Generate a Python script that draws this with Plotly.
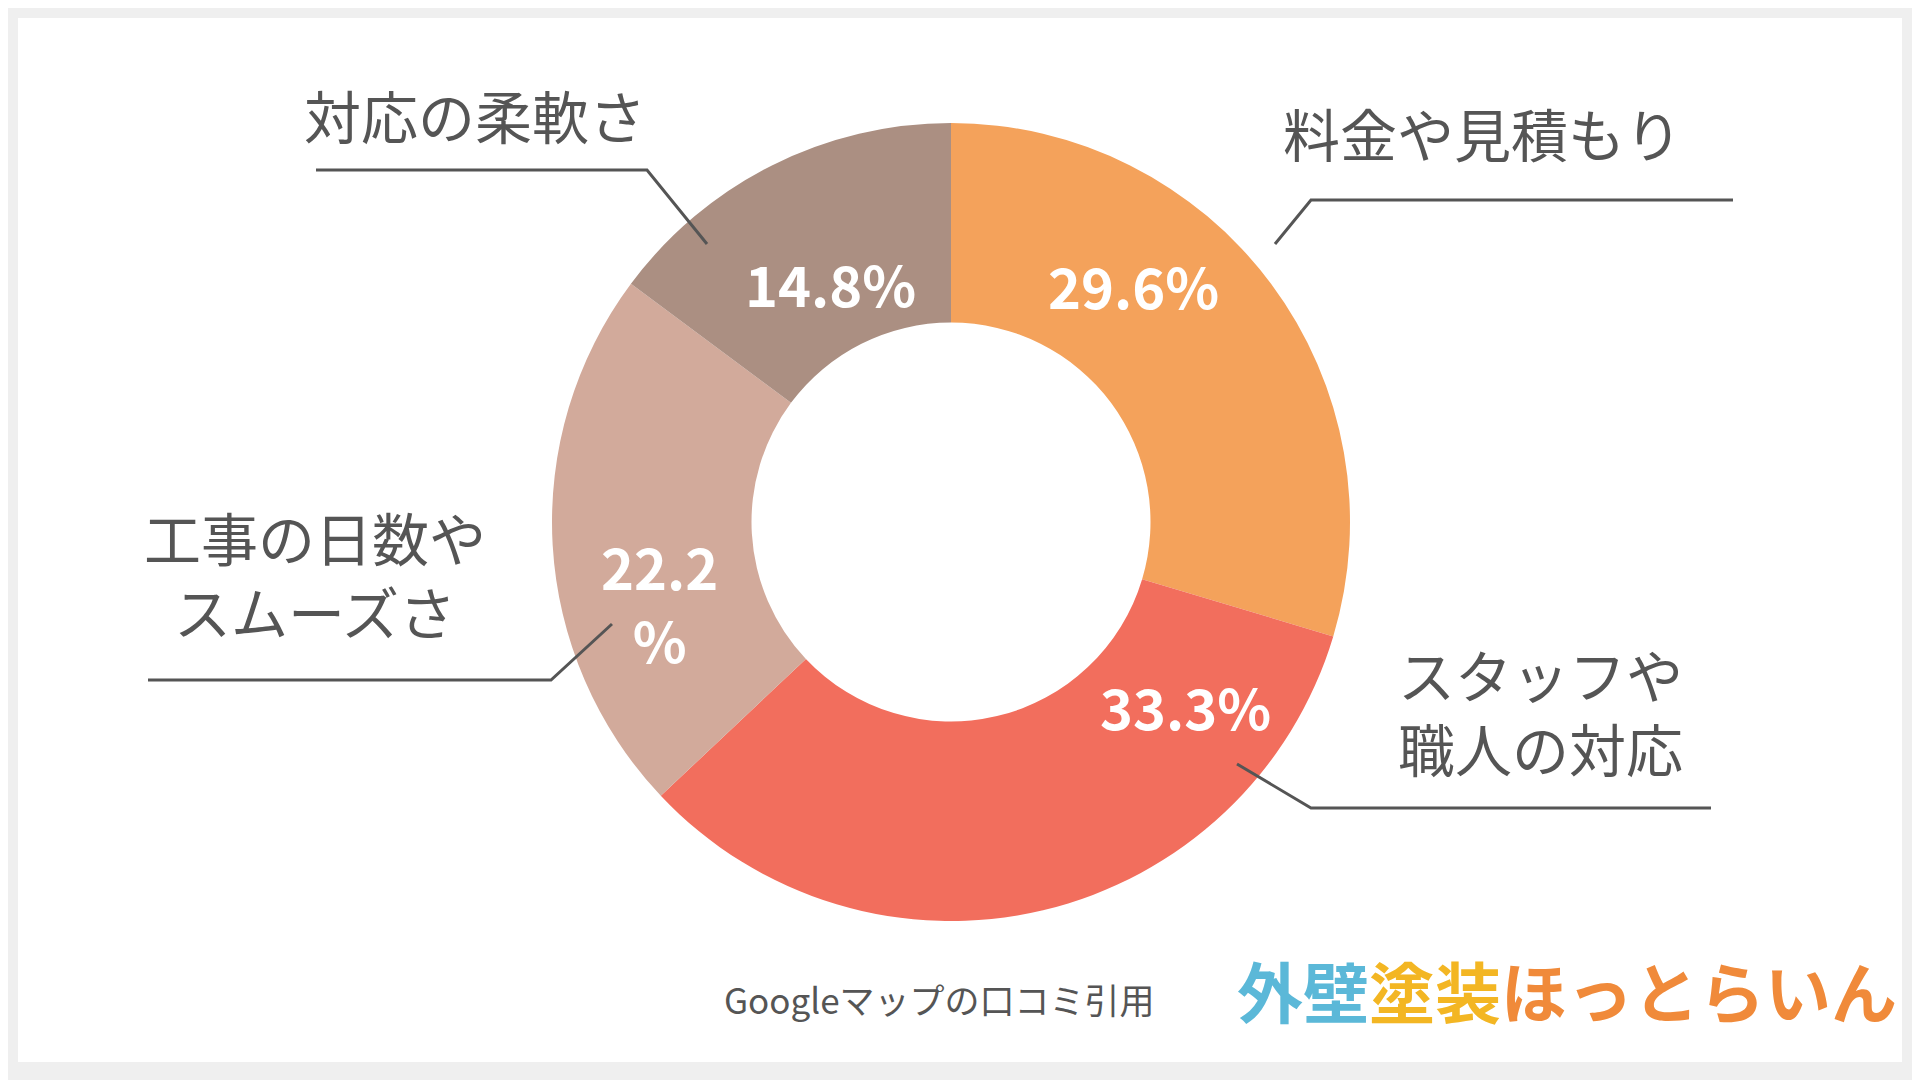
import plotly.graph_objects as go

categories = ["料金や見積もり", "スタッフや職人の対応", "工事の日数やスムーズさ", "対応の柔軟さ"]
values = [8, 9, 6, 4]
colors = ["#F4A25B", "#F26E5D", "#D2AA9B", "#AB8F82"]

total = sum(values)
pct = [f"{v / total * 100:.1f}%" for v in values]
texts = [p if i != 2 else p[:-1] + "<br>%" for i, p in enumerate(pct)]

W, H = 1920, 1080
OFF = -8
def px(x): return (x + OFF) / W
def py(y): return 1 - (y + OFF) / H

cx, cy, R = 951, 522, 399
fig = go.Figure(go.Pie(
    labels=categories, values=values, textinfo="none",
    hole=0.5, sort=False, direction="clockwise", rotation=0,
    marker=dict(colors=colors, line=dict(width=0)),
    domain=dict(x=[px(cx - R), px(cx + R)], y=[py(cy + R), py(cy - R)]),
    showlegend=False, hoverinfo="label+percent",
))

shapes = [
    dict(type="rect", xref="paper", yref="paper", x0=px(18), x1=px(1902), y0=py(1062), y1=py(18),
         fillcolor="white", line=dict(width=0), layer="below"),
]
lines = [
    [(1275, 244), (1311, 200), (1733, 200)],
    [(1237, 764), (1311, 808), (1711, 808)],
    [(612, 624), (551, 680), (148, 680)],
    [(707, 244), (647, 170), (316, 170)],
]
for pts in lines:
    path = "M " + " L ".join(f"{px(x)} {py(y)}" for x, y in pts)
    shapes.append(dict(type="path", xref="paper", yref="paper", path=path,
                       line=dict(color="#555555", width=3)))

lab_font = dict(family="Noto Sans CJK JP", size=57, color="#555555")
annos = [
    dict(x=px(1482), y=py(132), text=categories[0]),
    dict(x=px(1540), y=py(710), text="スタッフや<br>職人の対応"),
    dict(x=px(315), y=py(573), text="工事の日数や<br>スムーズさ"),
    dict(x=px(475), y=py(114), text=categories[3]),
]
for a in annos:
    a.update(xref="paper", yref="paper", showarrow=False, font=lab_font, xanchor="center", yanchor="middle")

pct_pos = [(1133, 284), (1185, 705), (659, 602), (830, 282)]
for t, (x, y) in zip(texts, pct_pos):
    annos.append(dict(x=px(x), y=py(y), xref="paper", yref="paper", showarrow=False, text=t,
                      xanchor="center", yanchor="middle",
                      font=dict(family="Noto Sans CJK JP", size=56, color="white", weight="bold")))

annos.append(dict(x=px(939), y=py(998), xref="paper", yref="paper", showarrow=False,
                  xanchor="center", yanchor="middle",
                  text="Googleマップの口コミ引用", font=dict(family="Noto Sans CJK JP", size=35, color="#555555")))
annos.append(dict(x=px(1567), y=py(989), xref="paper", yref="paper", showarrow=False,
                  xanchor="center", yanchor="middle",
                  text="<span style='color:#5BB8D8'>外壁</span><span style='color:#F3B623'>塗装</span><span style='color:#F08A3A'>ほっとらいん</span>",
                  font=dict(family="Noto Sans CJK JP", size=66, weight="bold")))

fig.update_layout(width=W, height=H, margin=dict(l=0, r=0, t=0, b=0),
                  paper_bgcolor="#EFEFEF", plot_bgcolor="#EFEFEF",
                  shapes=shapes, annotations=annos)
fig.write_html("out.html")
